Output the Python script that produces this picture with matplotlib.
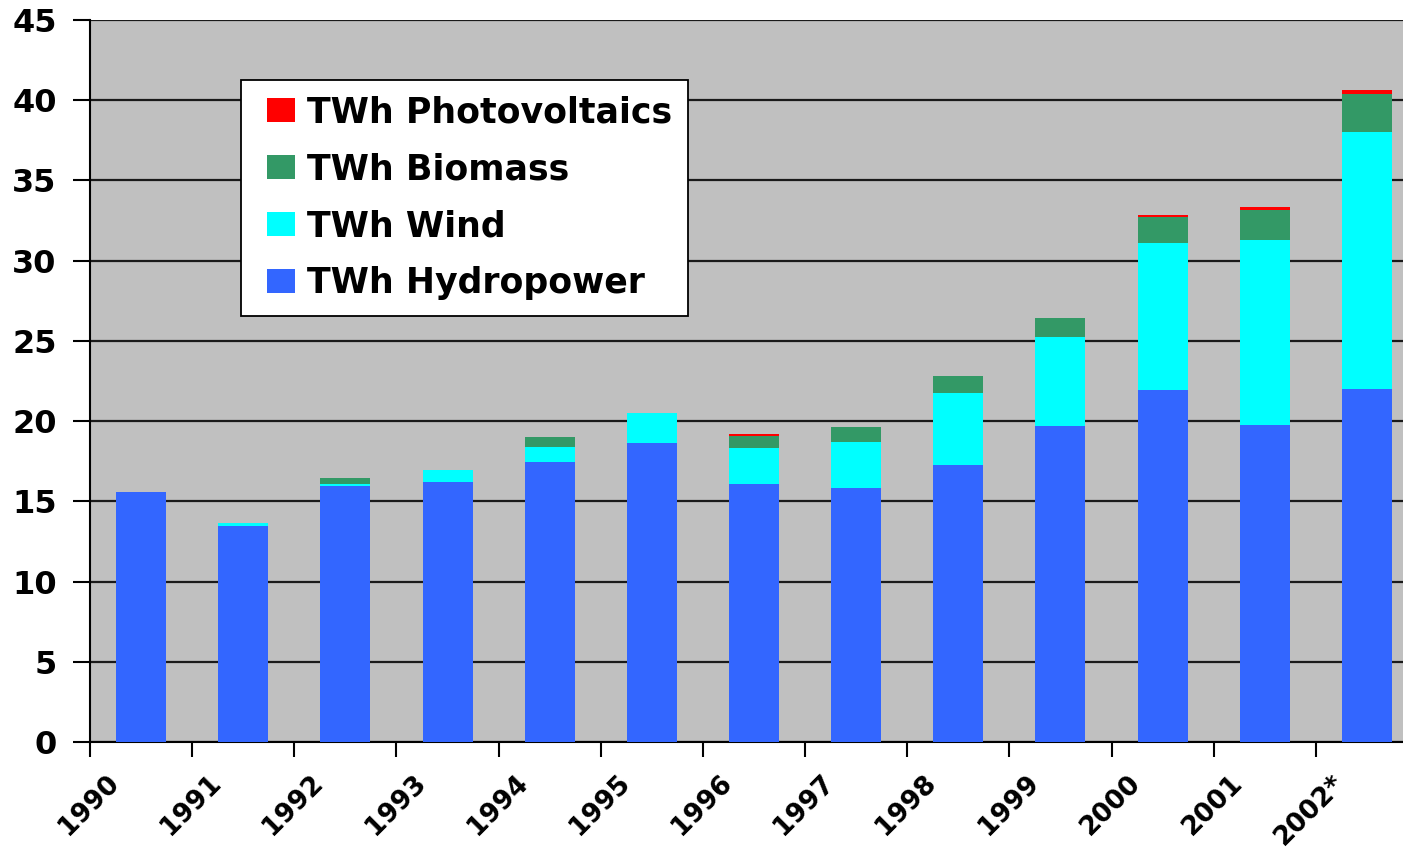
import matplotlib.pyplot as plt
import numpy as np
from matplotlib.lines import Line2D
from matplotlib.transforms import ScaledTranslation

# data (TWh)
years = ['1990', '1991', '1992', '1993', '1994', '1995', '1996',
         '1997', '1998', '1999', '2000', '2001', '2002*']
hydro = [15.6, 13.45, 15.95, 16.2, 17.45, 18.65, 16.1, 15.8, 17.25, 19.7, 21.95, 19.75, 22.0]
wind = [0.0, 0.2, 0.12, 0.75, 0.95, 1.85, 2.25, 2.9, 4.5, 5.55, 9.15, 11.55, 16.0]
biomass = [0.0, 0.0, 0.38, 0.0, 0.6, 0.0, 0.75, 0.95, 1.05, 1.2, 1.6, 1.85, 2.4]
pv = [0.0, 0.0, 0.0, 0.0, 0.0, 0.0, 0.12, 0.0, 0.0, 0.0, 0.12, 0.17, 0.25]
names = ['TWh Photovoltaics', 'TWh Biomass', 'TWh Wind', 'TWh Hydropower']

colors = {'hydro': '#3366FF', 'wind': '#00FFFF', 'bio': '#339966', 'pv': '#FF0000'}

W, H = 1403, 848
fig = plt.figure(figsize=(W / 100, H / 100), dpi=100)
ax = fig.add_axes([90 / W, (H - 742) / H, 1328 / W, 722 / H])
ax.set_facecolor('#C0C0C0')

x = np.arange(len(years))
bw = 0.49
h = np.array(hydro)
w = np.array(wind)
b = np.array(biomass)
p = np.array(pv)
ax.bar(x, h, bw, color=colors['hydro'], zorder=3)
ax.bar(x, w, bw, bottom=h, color=colors['wind'], zorder=3)
ax.bar(x, b, bw, bottom=h + w, color=colors['bio'], zorder=3)
ax.bar(x, p, bw, bottom=h + w + b, color=colors['pv'], zorder=3)

ax.set_xlim(-0.5, len(years) - 0.5)
ax.set_ylim(0, 45)
ax.set_yticks(np.arange(0, 46, 5))
ax.yaxis.grid(True, color='#1a1a1a', linewidth=1.6, zorder=1)
ax.set_axisbelow(True)

for s in ['top', 'right']:
    ax.spines[s].set_visible(False)
for s in ['left', 'bottom']:
    ax.spines[s].set_linewidth(1.5)
    ax.spines[s].set_color('black')

ax.tick_params(axis='y', length=12, width=1.5, pad=12, labelsize=23)
for lab in ax.get_yticklabels():
    lab.set_fontweight('bold')

# labels at bar centres, tick marks between categories
ax.set_xticks(x)
ax.set_xticklabels(years, rotation=45, ha='right', va='top',
                   rotation_mode='anchor', fontsize=19, fontweight='bold')
ax.tick_params(axis='x', which='major', length=0, pad=0)
ax.set_xticks(np.arange(-0.5, len(years) - 0.5, 1), minor=True)
ax.tick_params(axis='x', which='minor', length=11, width=1.5)
off = ScaledTranslation(-35 / 100, -28 / 100, fig.dpi_scale_trans)
for lab in ax.get_xticklabels():
    lab.set_transform(lab.get_transform() + off)

# rectangular legend keys, slightly wider than tall
box = [(-1, -0.82), (1, -0.82), (1, 0.82), (-1, 0.82), (-1, -0.82)]
handles = [Line2D([], [], linestyle='', marker=box, markersize=20.5,
                  markeredgewidth=0, color=c)
           for c in [colors['pv'], colors['bio'], colors['wind'], colors['hydro']]]
leg = ax.legend(handles, names,
                loc='upper left', bbox_to_anchor=(241 / W, 1 - 80 / H),
                bbox_transform=fig.transFigure, borderaxespad=0,
                prop={'weight': 'bold', 'size': 25},
                handlelength=1.4, handletextpad=0.05,
                labelspacing=0.66, borderpad=0.45, fancybox=False,
                framealpha=1, facecolor='white', edgecolor='black')
leg.get_frame().set_linewidth(1.3)

fig.savefig('out.png', dpi=100)
